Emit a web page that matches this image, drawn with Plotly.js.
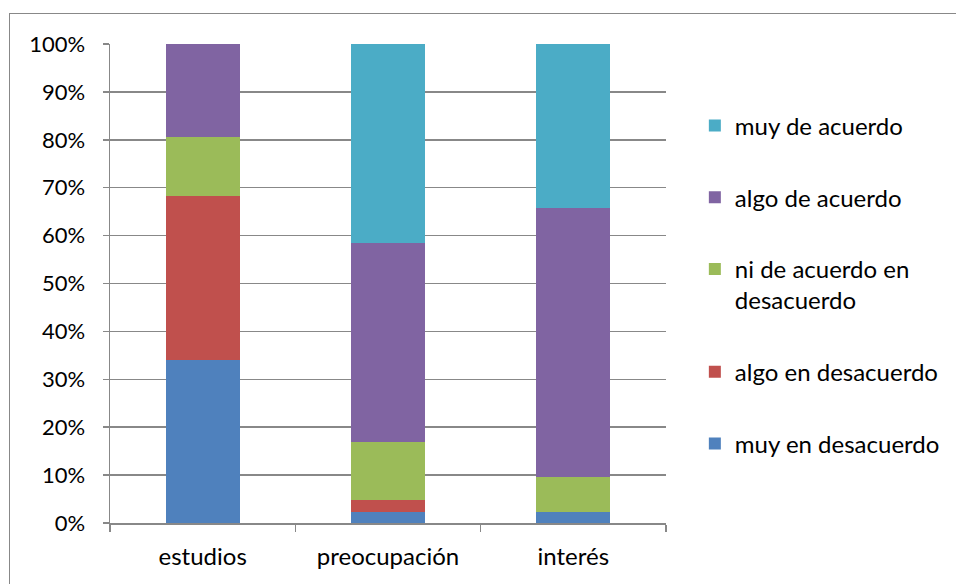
<!DOCTYPE html>
<html>
<head>
<meta charset="utf-8">
<script src="https://cdn.plot.ly/plotly-3.0.1.min.js"></script>
<style>
  html, body { margin: 0; padding: 0; background: #fff; }
  #wrap { position: relative; width: 956px; height: 584px; }
  #chart { width: 956px; height: 584px; }
  #frame { position: absolute; left: 9px; top: 13px; width: 960px; height: 600px;
           border: 1.5px solid #888; pointer-events: none; }
</style>
</head>
<body>
<div id="wrap">
  <div id="chart"></div>
  <div id="frame"></div>
</div>
<script>
const categories = ['estudios', 'preocupación', 'interés'];
const seriesNames = ['muy en desacuerdo', 'algo en desacuerdo', 'ni de acuerdo en<br>desacuerdo', 'algo de acuerdo', 'muy de acuerdo'];
const muyEnDesacuerdo  = [34.0, 2.3, 2.4];
const algoEnDesacuerdo = [34.2, 2.4, 0.0];
const niNi             = [12.4, 12.2, 7.3];
const algoDeAcuerdo    = [19.4, 41.6, 56.1];
const muyDeAcuerdo     = [0.0, 41.5, 34.2];
const yTickVals = [0, 10, 20, 30, 40, 50, 60, 70, 80, 90, 100];
const yTickText = ['0%', '10%', '20%', '30%', '40%', '50%', '60%', '70%', '80%', '90%', '100%'];

const seriesValues = [muyEnDesacuerdo, algoEnDesacuerdo, niNi, algoDeAcuerdo, muyDeAcuerdo];
const colors = ['#4F81BD', '#C0504D', '#9BBB59', '#8064A2', '#4BACC6'];

const traces = seriesValues.map((vals, i) => ({
  type: 'bar',
  x: categories,
  y: vals,
  name: seriesNames[i],
  legendgroup: 'g' + i,
  legendrank: 10 - i,
  marker: { color: colors[i], line: { width: 0 } },
  hoverinfo: 'skip'
}));

const fontFamily = 'Lato, Noto Sans, sans-serif';
const yFont = { family: fontFamily, size: 22, color: '#000' };
const xFont = { family: fontFamily, size: 24, color: '#000' };

const layout = {
  width: 956, height: 584,
  margin: { l: 110, r: 289, t: 44, b: 61, pad: 0 },
  paper_bgcolor: '#fff', plot_bgcolor: '#fff',
  barmode: 'stack',
  barnorm: 'percent',
  bargap: 0.6,
  font: yFont,
  showlegend: true,
  legend: {
    x: 1.05, xanchor: 'left', y: 0.876, yanchor: 'top',
    traceorder: 'grouped',
    tracegroupgap: 37.5,
    valign: 'top',
    font: { family: fontFamily, size: 24, color: '#000' },
    bgcolor: 'rgba(0,0,0,0)'
  },
  xaxis: {
    type: 'category',
    tickson: 'boundaries',
    ticks: 'outside', ticklen: 7, tickwidth: 1.5, tickcolor: '#888',
    showline: true, linecolor: '#888', linewidth: 1.5,
    showgrid: false,
    ticklabelstandoff: 12,
    tickfont: xFont,
    fixedrange: true
  },
  yaxis: {
    range: [0, 100],
    tickvals: yTickVals, ticktext: yTickText,
    ticks: 'outside', ticklen: 6, tickwidth: 1.5, tickcolor: '#888',
    showline: true, linecolor: '#888', linewidth: 1.5,
    showgrid: true, gridcolor: '#888', gridwidth: 1.5,
    zeroline: false,
    ticklabelstandoff: 13,
    tickfont: yFont,
    fixedrange: true
  }
};

Plotly.newPlot('chart', traces, layout, { displayModeBar: false, staticPlot: true });
</script>
</body>
</html>
